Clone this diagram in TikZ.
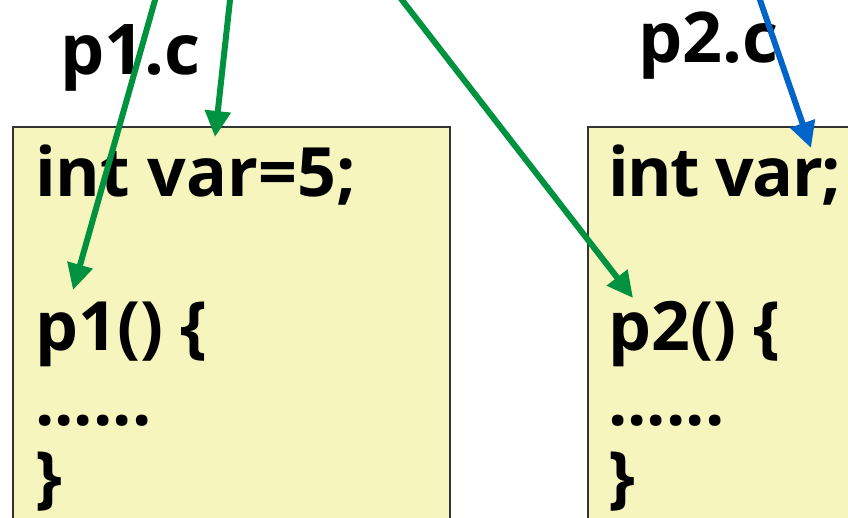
\documentclass[tikz,border=0pt]{standalone}
\usepackage{fontspec}
\setmainfont{Open Sans}
\usetikzlibrary{arrows.meta}
\definecolor{boxfill}{HTML}{F6F5BE}
\definecolor{boxline}{HTML}{333333}
\definecolor{linkgreen}{HTML}{00923F}
\definecolor{linkblue}{HTML}{0064C8}
\tikzset{
  srcbox/.style={draw=boxline, line width=1.2pt, fill=boxfill},
  code/.style={anchor=base west, inner sep=0pt, font=\fontsize{68}{76}\selectfont\bfseries},
  tight/.style={font=\fontsize{68}{76}\selectfont\bfseries\addfontfeature{LetterSpace=-2.5}},
  fname/.style={anchor=base west, inner sep=0pt, font=\fontsize{70}{76}\selectfont\bfseries},
  link/.style={line width=6pt, -{Triangle[length=26pt,width=25pt]}},
}
\begin{document}
\begin{tikzpicture}[x=1pt,y=-1pt]
  \useasboundingbox (0,0) rectangle (848,518);
  \clip (0,0) rectangle (848,518);

  % source files
  \draw[srcbox] (13,127) rectangle (450,540);
  \draw[srcbox] (588,127) rectangle (870,540);

  % file names
  \node[fname] (n1) at (60,75) {p1.c};
  \node[fname] (n2) at (638,63) {p2.c};

  % contents of p1.c
  \node[code] (v1) at (35,197) {int var=5;};
  \node[code] (f1) at (35,350) {p1() \{};
  \node[code] (d1) at (35,425) {......};
  \node[code] (e1) at (35,500) {\}};

  % contents of p2.c
  \node[code, tight] (v2) at (608,197) {int var;};
  \node[code] (f2) at (608,350) {p2() \{};
  \node[code] (d2) at (608,425) {......};
  \node[code] (e2) at (608,500) {\}};

  % references coming from above
  \coordinate (s1) at (160.7,-20);
  \coordinate (t1) at (73,290);
  \coordinate (s2) at (232.2,-20);
  \coordinate (t2) at (215,137);
  \coordinate (s3) at (386.5,-20);
  \coordinate (t3) at (633,298);
  \coordinate (s4) at (753.1,-20);
  \coordinate (t4) at (811,148);

  \draw[link, linkgreen] (s1) -- (t1);
  \draw[link, linkgreen] (s2) -- (t2);
  \draw[link, linkgreen] (s3) -- (t3);
  \draw[link, linkblue] (s4) -- (t4);
\end{tikzpicture}
\end{document}
